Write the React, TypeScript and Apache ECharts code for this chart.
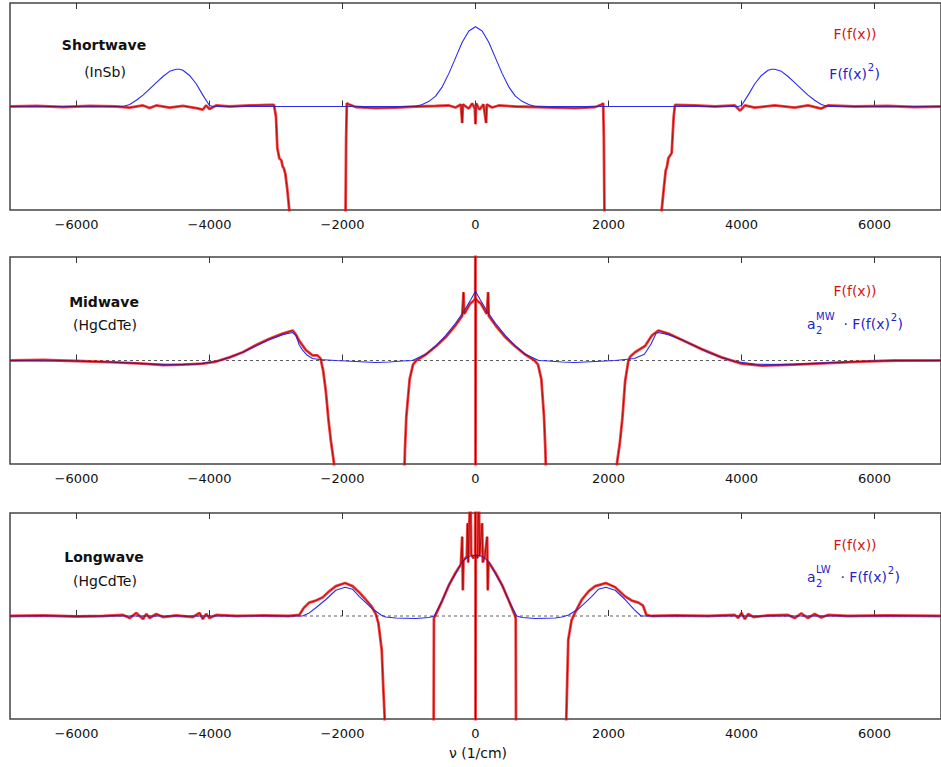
import React, { useEffect, useRef } from "react";
import * as echarts from "echarts";

// x tick values (1/cm)
const xTicks = [-6000, -4000, -2000, 0, 2000, 4000, 6000];
const zeroLine: [number, number][] = [[-7000, 0], [7000, 0]];

// ---------- Shortwave (InSb) ----------
const swRed: [number, number][] = [
  [-7000, 0], [-6600, 0.005], [-6200, -0.005], [-5800, 0.005], [-5400, 0], [-5200, -0.01],
  [-5000, 0.01], [-4900, -0.015], [-4800, 0.01], [-4600, -0.01], [-4400, 0.005], [-4200, -0.015],
  [-4100, -0.03], [-4050, 0.01], [-4000, -0.025], [-3900, 0.01], [-3700, 0], [-3400, 0.01],
  [-3100, 0.015], [-3030, 0.015], [-3000, -0.1], [-2980, -0.4], [-2950, -0.5], [-2920, -0.52],
  [-2900, -0.58], [-2880, -0.6], [-2860, -0.65], [-2830, -0.8], [-2800, -1.0], [-2780, -1.5],
  [-1960, -1.5], [-1945, -0.3], [-1935, 0.03], [-1900, 0.02], [-1800, -0.005], [-1500, -0.015],
  [-1200, -0.01], [-900, 0], [-600, 0.005], [-400, 0.01], [-300, -0.01], [-220, 0.02],
  [-200, -0.16], [-190, 0.02], [-100, -0.02], [-50, 0.03], [-10, -0.02], [0, -0.17], [10, 0.03],
  [60, -0.03], [120, 0.02], [160, -0.16], [170, 0.02], [250, -0.01], [350, 0.01], [600, 0],
  [900, -0.005], [1200, -0.01], [1500, -0.015], [1800, -0.005], [1900, 0.02], [1920, 0.03],
  [1930, -0.3], [1945, -1.5], [2780, -1.5], [2800, -1.0], [2830, -0.8], [2860, -0.62],
  [2880, -0.58], [2900, -0.5], [2950, -0.45], [2980, -0.1], [3000, 0.015], [3300, 0.01],
  [3600, 0], [3900, 0.01], [3980, -0.04], [4050, 0.01], [4200, -0.01], [4500, 0.01],
  [4800, -0.01], [5000, 0.01], [5200, -0.02], [5300, 0.01], [5700, 0], [6200, 0.005],
  [6600, -0.005], [7000, 0],
];
const swBlue: [number, number][] = [
  [-7000, 0], [-5300, 0], [-5200, 0.02], [-5100, 0.06], [-5000, 0.11], [-4900, 0.17],
  [-4800, 0.23], [-4700, 0.29], [-4600, 0.34], [-4500, 0.36], [-4450, 0.36], [-4400, 0.35],
  [-4300, 0.3], [-4200, 0.22], [-4100, 0.11], [-4000, 0.01], [-3950, 0],
  [-900, 0], [-800, 0.02], [-700, 0.05], [-600, 0.1], [-500, 0.19], [-400, 0.32], [-300, 0.47],
  [-200, 0.62], [-100, 0.73], [0, 0.77], [100, 0.73], [200, 0.62], [300, 0.47], [400, 0.32],
  [500, 0.19], [600, 0.1], [700, 0.05], [800, 0.02], [900, 0],
  [3950, 0], [4000, 0.01], [4100, 0.11], [4200, 0.22], [4300, 0.3], [4400, 0.35], [4450, 0.36],
  [4500, 0.36], [4600, 0.34], [4700, 0.29], [4800, 0.23], [4900, 0.17], [5000, 0.11],
  [5100, 0.06], [5200, 0.02], [5300, 0], [7000, 0],
];

// ---------- Midwave (HgCdTe) ----------
const mwRed: [number, number][] = [
  [-7000, 0], [-6500, 0.005], [-6000, -0.005], [-5500, -0.015], [-5000, -0.03], [-4700, -0.045],
  [-4400, -0.04], [-4100, -0.03], [-3900, -0.01], [-3700, 0.03], [-3500, 0.08], [-3300, 0.15],
  [-3100, 0.21], [-2900, 0.26], [-2800, 0.28], [-2750, 0.29], [-2700, 0.25], [-2650, 0.19],
  [-2550, 0.1], [-2450, 0.05], [-2380, 0.05], [-2330, 0.02], [-2290, -0.1], [-2250, -0.3],
  [-2210, -0.58], [-2170, -0.8], [-2130, -0.98], [-2100, -1.3], [-1080, -1.3], [-1060, -0.85],
  [-1040, -0.54], [-990, -0.18], [-940, -0.04], [-890, 0], [-740, 0.06], [-590, 0.14],
  [-440, 0.23], [-300, 0.34], [-200, 0.43], [-180, 0.66], [-170, 0.45], [-80, 0.55],
  [-20, 0.58], [-5, 0.6], [0, 1.3], [0, -1.3], [5, 0.6], [20, 0.58], [80, 0.55], [170, 0.45],
  [190, 0.66], [200, 0.43], [300, 0.34], [440, 0.23], [590, 0.14], [740, 0.06], [890, 0],
  [940, -0.04], [990, -0.18], [1030, -0.54], [1050, -0.85], [1070, -1.3], [2100, -1.3],
  [2130, -0.98], [2170, -0.8], [2210, -0.55], [2250, -0.2], [2300, 0], [2330, 0.04],
  [2400, 0.08], [2550, 0.14], [2650, 0.24], [2750, 0.29], [2800, 0.28], [2900, 0.26],
  [3100, 0.2], [3400, 0.11], [3700, 0.03], [4000, -0.03], [4300, -0.05], [4800, -0.04],
  [5300, -0.025], [5800, -0.01], [6300, 0], [7000, 0],
];
const mwBlue: [number, number][] = [
  [-7000, 0], [-6000, -0.005], [-5500, -0.015], [-5000, -0.03], [-4600, -0.04], [-4200, -0.035],
  [-3900, -0.01], [-3700, 0.03], [-3500, 0.08], [-3300, 0.14], [-3100, 0.2], [-2900, 0.25],
  [-2750, 0.27], [-2700, 0.24], [-2650, 0.15], [-2600, 0.1], [-2530, 0.05], [-2450, 0.02],
  [-2350, 0.01], [-2100, 0], [-1800, -0.01], [-1500, -0.02], [-1300, -0.015], [-1100, -0.005],
  [-950, 0], [-750, 0.06], [-600, 0.14], [-450, 0.24], [-300, 0.36], [-170, 0.48], [-70, 0.59],
  [0, 0.67], [70, 0.59], [170, 0.48], [300, 0.36], [450, 0.24], [600, 0.14], [750, 0.06],
  [950, 0], [1100, -0.005], [1300, -0.015], [1500, -0.02], [1800, -0.01], [2100, 0],
  [2390, 0.02], [2540, 0.06], [2640, 0.16], [2715, 0.26], [2750, 0.27], [2900, 0.25],
  [3100, 0.2], [3300, 0.14], [3500, 0.08], [3700, 0.03], [3900, -0.01], [4200, -0.035],
  [4600, -0.04], [5000, -0.03], [5500, -0.015], [6000, -0.005], [7000, 0],
];

// ---------- Longwave (HgCdTe) ----------
const lwRed: [number, number][] = [
  [-7000, 0], [-6500, 0.005], [-6000, -0.005], [-5600, 0], [-5300, 0.01], [-5200, -0.02],
  [-5100, 0.03], [-5000, -0.03], [-4950, 0.02], [-4900, -0.02], [-4800, 0.02], [-4700, -0.01],
  [-4500, 0.005], [-4250, -0.01], [-4150, 0.03], [-4100, -0.03], [-4050, 0.02], [-4000, -0.02],
  [-3900, 0.01], [-3600, 0], [-3200, 0.005], [-2800, 0], [-2650, 0.01], [-2580, 0.08],
  [-2500, 0.13], [-2400, 0.15], [-2300, 0.18], [-2200, 0.24], [-2100, 0.29], [-1960, 0.32],
  [-1850, 0.29], [-1750, 0.23], [-1650, 0.16], [-1560, 0.09], [-1500, 0.02], [-1460, -0.07],
  [-1410, -0.33], [-1390, -0.65], [-1365, -1.0], [-1350, -1.3], [-630, -1.3], [-625, -0.02],
  [-600, 0.01], [-500, 0.15], [-400, 0.3], [-300, 0.42], [-220, 0.5], [-200, 0.77],
  [-190, 0.25], [-180, 0.54], [-130, 0.58], [-120, 0.9], [-110, 0.52], [-75, 1.3], [-65, 0.6],
  [-30, 0.56], [-5, 0.6], [0, 1.3], [0, -1.3], [5, 0.6], [30, 0.56], [50, 1.3], [60, 0.58],
  [100, 0.9], [110, 0.52], [140, 0.58], [175, 0.77], [185, 0.25], [195, 0.52], [220, 0.5],
  [300, 0.42], [400, 0.3], [500, 0.15], [590, 0.01], [605, -0.02], [610, -1.3], [1350, -1.3],
  [1365, -1.0], [1395, -0.23], [1445, -0.04], [1495, 0.03], [1600, 0.16], [1700, 0.24],
  [1800, 0.29], [1960, 0.32], [2100, 0.28], [2250, 0.19], [2350, 0.15], [2450, 0.13],
  [2520, 0.1], [2570, 0.01], [2650, 0], [3000, 0.005], [3500, 0], [3900, 0.01], [3950, -0.02],
  [4000, 0.03], [4050, -0.03], [4100, 0.02], [4180, -0.01], [4400, 0.005], [4700, 0.01],
  [4800, -0.02], [4900, 0.025], [5000, -0.02], [5100, 0.02], [5200, -0.015], [5300, 0.01],
  [5600, 0], [6200, 0.005], [7000, 0],
];
const lwBlue: [number, number][] = [
  [-7000, 0], [-2600, 0], [-2500, 0.03], [-2400, 0.08], [-2250, 0.16], [-2100, 0.25],
  [-1960, 0.28], [-1850, 0.26], [-1750, 0.19], [-1650, 0.13], [-1550, 0.07], [-1420, 0.01],
  [-1350, -0.01], [-1200, -0.02], [-900, -0.025], [-700, -0.015], [-620, 0], [-500, 0.15],
  [-400, 0.3], [-300, 0.41], [-200, 0.53], [-100, 0.58], [0, 0.59], [100, 0.58], [200, 0.53],
  [300, 0.41], [400, 0.3], [500, 0.15], [620, 0], [700, -0.015], [900, -0.025], [1200, -0.02],
  [1300, -0.01], [1400, 0.01], [1550, 0.07], [1650, 0.13], [1750, 0.19], [1850, 0.26],
  [1960, 0.28], [2100, 0.25], [2250, 0.16], [2390, 0.06], [2490, 0], [7000, 0],
];

const panelTitles = ["Shortwave", "Midwave", "Longwave"];
const panelSubtitles = ["(InSb)", "(HgCdTe)", "(HgCdTe)"];
const redLabel = "F(f(x))";
const blueScales = ["", "MW", "LW"];
const xAxisName = "ν (1/cm)";

const FONT = '"DejaVu Sans", "Liberation Sans", Arial, sans-serif';
const RED = "#ee1515";
const RED_DARK = "#a00000";
const BLUE = "#2a2af0";

export default function App() {
  const ref = useRef<HTMLDivElement>(null);

  useEffect(() => {
    if (!ref.current) return;
    const chart = echarts.init(ref.current, null, { renderer: "svg" });

    const gridPos = [
      { top: 3, height: 207 },
      { top: 257, height: 207 },
      { top: 513, height: 206 },
    ];
    const grids = gridPos.map((g) => ({
      ...g,
      left: 10,
      right: -8,
      show: true,
      borderColor: "#444",
      borderWidth: 1.5,
      backgroundColor: "transparent",
      containLabel: false,
    }));

    const fmt = (v: number) => (v < 0 ? "\u2212" + Math.abs(v) : String(v));
    const xAxes: any[] = [];
    gridPos.forEach((_, i) => {
      xAxes.push({
        type: "value",
        gridIndex: i,
        min: -7000,
        max: 7000,
        position: "bottom",
        axisLine: { show: false },
        splitLine: { show: false },
        axisTick: { show: true, inside: true, length: 6, customValues: xTicks, lineStyle: { color: "#333", width: 1 } },
        axisLabel: { show: true, customValues: xTicks, formatter: fmt, fontFamily: FONT, fontSize: 13, color: "#111", margin: 8 },
      });
      xAxes.push({
        type: "value",
        gridIndex: i,
        min: -7000,
        max: 7000,
        position: "top",
        axisLine: { show: false },
        splitLine: { show: false },
        axisTick: { show: true, inside: true, length: 6, customValues: xTicks, lineStyle: { color: "#333", width: 1 } },
        axisLabel: { show: false },
      });
    });
    const yAxes = gridPos.map((_, i) => ({
      type: "value",
      gridIndex: i,
      min: -1,
      max: 1,
      show: false,
      splitLine: { show: false },
    }));

    const reds = [swRed, mwRed, lwRed];
    const blues = [swBlue, mwBlue, lwBlue];
    const series: any[] = [];
    reds.forEach((red, i) => {
      const base = { type: "line", xAxisIndex: 2 * i, yAxisIndex: i, showSymbol: false, symbol: "none", clip: true, silent: true };
      if (i > 0) {
        series.push({ ...base, data: zeroLine, lineStyle: { color: "#333", width: 0.8, type: [3, 3] }, z: 1 });
      }
      series.push({ ...base, data: red, lineStyle: { color: RED, width: 2.8, opacity: 0.8 }, z: 2 });
      series.push({ ...base, data: blues[i], lineStyle: { color: BLUE, width: 1.1 }, z: 3 });
      series.push({ ...base, data: red, lineStyle: { color: RED_DARK, width: 0.8 }, z: 4 });
    });

    const txt = (x: number, y: number, text: string, o: any = {}) => ({
      type: "text",
      x,
      y,
      silent: true,
      z: 100,
      style: {
        text,
        fill: o.fill || "#111",
        fontFamily: FONT,
        fontSize: o.size || 14,
        fontWeight: o.weight || "normal",
        align: o.align || "center",
        verticalAlign: "middle",
      },
    });

    const titleY = [[45, 72], [302, 325], [557, 581]];
    const redY = [34, 291, 545];
    const blueY = [74, 324, 577];
    const graphic: any[] = [];
    panelTitles.forEach((t, i) => {
      graphic.push(txt(104, titleY[i][0], t, { weight: "bold" }));
      graphic.push(txt(105, titleY[i][1], panelSubtitles[i]));
      graphic.push(txt(855, redY[i], redLabel, { fill: "#d01515" }));
      const cy = blueY[i];
      const bf = "#2323c8";
      if (blueScales[i] === "") {
        graphic.push(txt(880, cy, ")", { fill: bf, align: "right" }));
        graphic.push(txt(874, cy - 7, "2", { fill: bf, align: "right", size: 10 }));
        graphic.push(txt(867, cy, "F(f(x)", { fill: bf, align: "right" }));
      } else {
        const rx = i === 1 ? 903 : 900;
        graphic.push(txt(rx, cy, ")", { fill: bf, align: "right" }));
        graphic.push(txt(rx - 6, cy - 7, "2", { fill: bf, align: "right", size: 10 }));
        graphic.push(txt(rx - 13, cy, "F(f(x)", { fill: bf, align: "right" }));
        graphic.push(txt(rx - 55, cy, "\u00b7", { fill: bf, align: "right" }));
        graphic.push(txt(807, cy, "a", { fill: bf, align: "left" }));
        graphic.push(txt(816, cy - 8, blueScales[i], { fill: bf, align: "left", size: 10 }));
        graphic.push(txt(816, cy + 6, "2", { fill: bf, align: "left", size: 10 }));
      }
    });
    graphic.push(txt(478, 753, xAxisName));

    chart.setOption({
      animation: false,
      backgroundColor: "#fff",
      grid: grids,
      xAxis: xAxes,
      yAxis: yAxes,
      series,
      graphic,
    });
    return () => chart.dispose();
  }, []);

  return (
    <div style={{ position: "fixed", left: 0, top: 0, width: 941, height: 767, background: "#fff", overflow: "hidden" }}>
      <div ref={ref} style={{ width: 941, height: 767 }} />
    </div>
  );
}
